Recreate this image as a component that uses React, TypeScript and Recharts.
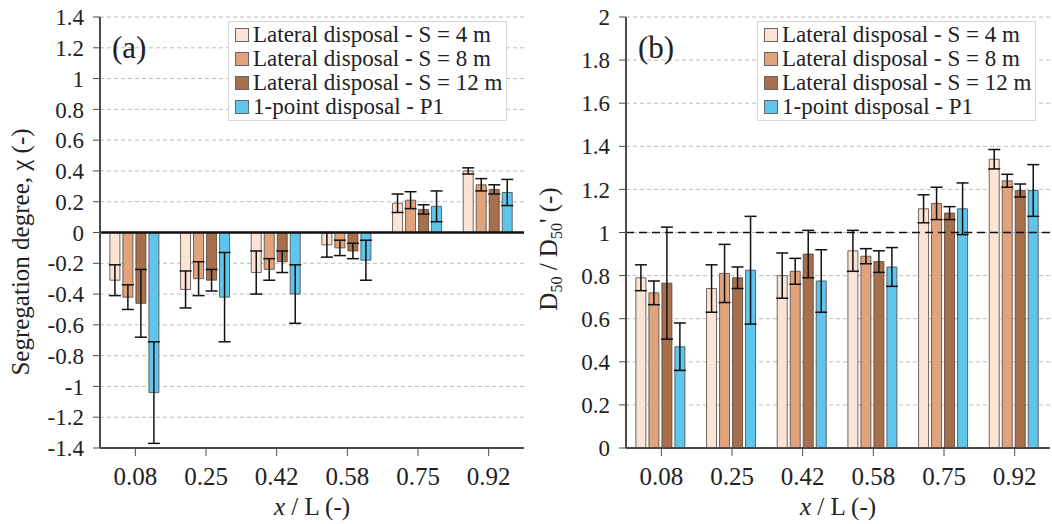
import React from 'react';
import {
  BarChart,
  Bar,
  XAxis,
  YAxis,
  CartesianGrid,
  ErrorBar,
  ReferenceLine,
  Legend,
  Label
} from 'recharts';

const positions = ['0.08', '0.25', '0.42', '0.58', '0.75', '0.92'];

const seriesNames = [
  'Lateral disposal - S = 4 m',
  'Lateral disposal - S = 8 m',
  'Lateral disposal - S = 12 m',
  '1-point disposal - P1'
];
const seriesColors = ['#fbe3d5', '#e0a37c', '#a86f4c', '#5ec6ec'];

// (a) segregation degree
const chiS4 = [-0.31, -0.37, -0.26, -0.08, 0.19, 0.4];
const chiS4Err = [0.1, 0.12, 0.14, 0.08, 0.06, 0.02];
const chiS8 = [-0.42, -0.3, -0.24, -0.1, 0.21, 0.31];
const chiS8Err = [0.08, 0.11, 0.07, 0.05, 0.055, 0.04];
const chiS12 = [-0.46, -0.31, -0.19, -0.12, 0.15, 0.28];
const chiS12Err = [0.22, 0.07, 0.07, 0.05, 0.03, 0.03];
const chiP1 = [-1.04, -0.42, -0.4, -0.18, 0.17, 0.26];
const chiP1Err = [0.33, 0.29, 0.19, 0.13, 0.1, 0.085];

// (b) D50 / D50'
const dS4 = [0.79, 0.74, 0.8, 0.915, 1.11, 1.34];
const dS4Err = [0.06, 0.11, 0.105, 0.095, 0.065, 0.045];
const dS8 = [0.72, 0.81, 0.82, 0.89, 1.135, 1.24];
const dS8Err = [0.055, 0.135, 0.06, 0.035, 0.075, 0.03];
const dS12 = [0.765, 0.79, 0.9, 0.865, 1.09, 1.195];
const dS12Err = [0.26, 0.05, 0.11, 0.05, 0.03, 0.03];
const dP1 = [0.47, 0.825, 0.775, 0.84, 1.11, 1.195];
const dP1Err = [0.11, 0.25, 0.145, 0.09, 0.12, 0.12];

const chiTicks = [-1.4, -1.2, -1, -0.8, -0.6, -0.4, -0.2, 0, 0.2, 0.4, 0.6, 0.8, 1, 1.2, 1.4];
const dTicks = [0, 0.2, 0.4, 0.6, 0.8, 1, 1.2, 1.4, 1.6, 1.8, 2];

const FONT =
  "'Liberation Serif', 'Times New Roman', Times, Tinos, 'Nimbus Roman', 'Noto Serif', 'DejaVu Serif', FreeSerif, serif";
const keys = ['s4', 's8', 's12', 'p1'];

const chiData = positions.map((p, i) => ({
  pos: p,
  s4: chiS4[i], s4e: chiS4Err[i],
  s8: chiS8[i], s8e: chiS8Err[i],
  s12: chiS12[i], s12e: chiS12Err[i],
  p1: chiP1[i], p1e: chiP1Err[i]
}));

const dData = positions.map((p, i) => ({
  pos: p,
  s4: dS4[i], s4e: dS4Err[i],
  s8: dS8[i], s8e: dS8Err[i],
  s12: dS12[i], s12e: dS12Err[i],
  p1: dP1[i], p1e: dP1Err[i]
}));

const LegendBox = () => (
  <div
    style={{
      border: '1px solid #d8d8d8',
      background: '#fff',
      padding: '1px 4px 1px 6px',
      fontFamily: FONT,
      fontSize: 23,
      lineHeight: '24px',
      color: '#222'
    }}
  >
    {seriesNames.map((n, i) => (
      <div key={n} style={{ display: 'flex', alignItems: 'center', whiteSpace: 'nowrap' }}>
        <span
          style={{
            display: 'inline-block',
            width: 12,
            height: 12,
            background: seriesColors[i],
            border: '1px solid #666',
            marginRight: 4
          }}
        />
        {n}
      </div>
    ))}
  </div>
);

interface PanelProps {
  data: any[];
  ticks: number[];
  domain: [number, number];
  tag: string;
  yTitle: React.ReactNode;
  width: number;
  marginLeft: number;
  marginRight: number;
  legendLeft: number;
  refY: number;
  refDashed: boolean;
  titleX: number;
  titleY: number;
}

function Panel(p: PanelProps) {
  const axisStroke = '#4a4a4a';
  return (
    <BarChart
      width={p.width}
      height={524}
      data={p.data}
      margin={{ top: 17, right: p.marginRight, bottom: 6, left: p.marginLeft }}
      barCategoryGap="14%"
      barGap={3}
    >
      <CartesianGrid vertical={false} stroke="#bdbdbd" strokeDasharray="4 3" />
      <XAxis
        dataKey="pos"
        height={70}
        tickSize={8}
        tickMargin={11}
        tick={{ fontFamily: FONT, fontSize: 25, fill: '#222' }}
        axisLine={{ stroke: axisStroke, strokeWidth: 2 }}
        tickLine={{ stroke: axisStroke, strokeWidth: 1 }}
      >
        <Label
          content={({ viewBox }: any) => (
            <text
              x={viewBox.x + viewBox.width / 2}
              y={viewBox.y + 67}
              textAnchor="middle"
              fontFamily={FONT}
              fontSize={25}
              fill="#222"
            >
              <tspan fontStyle="italic">x</tspan>
              <tspan> / L (-)</tspan>
            </text>
          )}
        />
      </XAxis>
      <XAxis
        xAxisId="top"
        dataKey="pos"
        orientation="top"
        height={0}
        tick={false}
        tickLine={false}
        axisLine={{ stroke: '#6a6a6a', strokeWidth: 2 }}
      />
      <YAxis
        type="number"
        domain={p.domain}
        ticks={p.ticks}
        interval={0}
        width={60}
        tickSize={7}
        tickMargin={9}
        tickFormatter={(v: number) => String(v)}
        tick={{ fontFamily: FONT, fontSize: 23, fill: '#222' }}
        axisLine={{ stroke: axisStroke, strokeWidth: 2 }}
        tickLine={{ stroke: axisStroke, strokeWidth: 1 }}
      >
        <Label
          content={({ viewBox }: any) => (
            <g>
              <text
                x={viewBox.x + viewBox.width + 12}
                y={viewBox.y + 41}
                fontFamily={FONT}
                fontSize={31}
                fill="#222"
              >
                {p.tag}
              </text>
              <text
                transform={`translate(${p.titleX}, ${p.titleY}) rotate(-90)`}
                textAnchor="middle"
                fontFamily={FONT}
                fontSize={25}
                fill="#222"
              >
                {p.yTitle}
              </text>
            </g>
          )}
        />
      </YAxis>
      <YAxis
        yAxisId="right"
        type="number"
        domain={p.domain}
        orientation="right"
        width={0}
        tick={false}
        tickLine={false}
        axisLine={{ stroke: '#6a6a6a', strokeWidth: 2 }}
      />
      <Legend
        layout="vertical"
        align="center"
        verticalAlign="middle"
        wrapperStyle={{ left: p.legendLeft, top: 21, width: 'auto' }}
        content={() => <LegendBox />}
      />
      {keys.map((k, i) => (
        <Bar
          key={k}
          dataKey={k}
          name={seriesNames[i]}
          fill={seriesColors[i]}
          stroke="#4f443f"
          strokeOpacity={0.8}
          strokeWidth={1}
          isAnimationActive={false}
        >
          <ErrorBar dataKey={k + 'e'} width={6} stroke="#111" strokeWidth={1.5} />
        </Bar>
      ))}
      <ReferenceLine
        y={p.refY}
        stroke="#111"
        strokeWidth={p.refDashed ? 1.5 : 2.5}
        strokeDasharray={p.refDashed ? '8 5' : undefined}
      />
    </BarChart>
  );
}

export default function App() {
  return (
    <div
      style={{
        position: 'absolute',
        left: 0,
        top: 0,
        width: 1052,
        height: 524,
        background: '#fff',
        overflow: 'hidden'
      }}
    >
      <div style={{ position: 'absolute', left: 0, top: 0 }}>
        <Panel
          data={chiData}
          ticks={chiTicks}
          domain={[-1.4, 1.4]}
          tag="(a)"
          yTitle={'Segregation degree, \u03c7 (-)'}
          width={530}
          marginLeft={40}
          marginRight={6}
          legendLeft={228}
          refY={0}
          refDashed={false}
          titleX={29}
          titleY={252}
        />
      </div>
      <div style={{ position: 'absolute', left: 520, top: 0 }}>
        <Panel
          data={dData}
          ticks={dTicks}
          domain={[0, 2]}
          tag="(b)"
          yTitle={
            <>
              <tspan>D</tspan>
              <tspan fontSize={16} dy={5}>50</tspan>
              <tspan dy={-5}> / D</tspan>
              <tspan fontSize={16} dy={5}>50</tspan>
              <tspan dy={-5}>' (-)</tspan>
            </>
          }
          width={532}
          marginLeft={46}
          marginRight={2}
          legendLeft={237}
          refY={1}
          refDashed={true}
          titleX={37}
          titleY={249}
        />
      </div>
    </div>
  );
}
